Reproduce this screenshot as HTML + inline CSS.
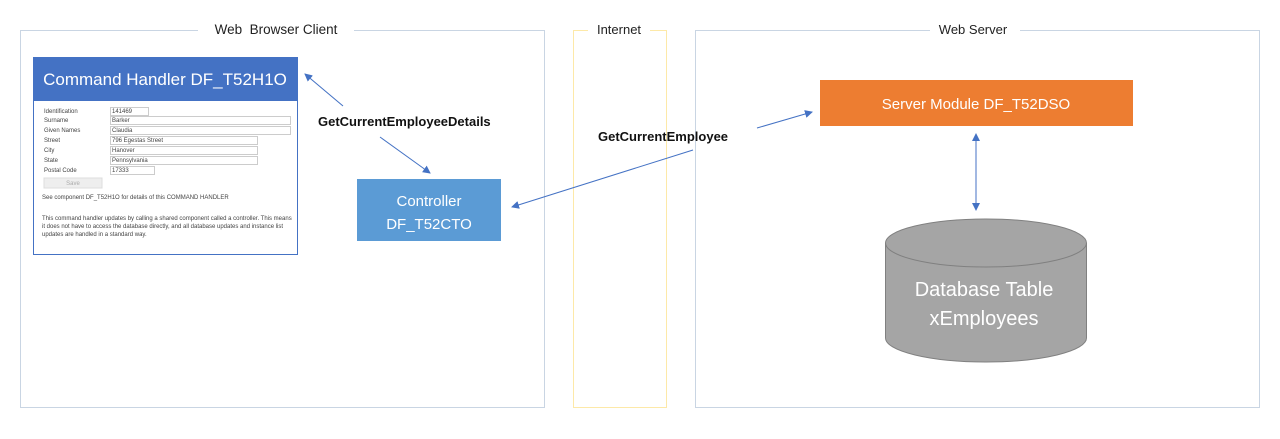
<!DOCTYPE html>
<html><head><meta charset="utf-8"><style>
body{margin:0;background:#fff;width:1280px;height:434px;overflow:hidden;font-family:"Liberation Sans",sans-serif}
</style></head><body>
<svg width="1280" height="434" xmlns="http://www.w3.org/2000/svg" font-family="Liberation Sans, sans-serif">
<defs><marker id="a" markerWidth="8" markerHeight="8" refX="7" refY="4" orient="auto" markerUnits="userSpaceOnUse"><path d="M0,0 L8,4 L0,8 z" fill="#4472c4"/></marker></defs>
<rect x="20.5" y="30.5" width="524" height="377" fill="none" stroke="#c9d5e3"/>
<rect x="573.5" y="30.5" width="93" height="377" fill="none" stroke="#fde9a8"/>
<rect x="695.5" y="30.5" width="564" height="377" fill="none" stroke="#c9d5e3"/>
<rect x="198" y="20" width="156" height="16" fill="#fff"/>
<text x="276" y="34" font-size="13.5" text-anchor="middle" fill="#222" xml:space="preserve">Web  Browser Client</text>
<rect x="588" y="20" width="62" height="16" fill="#fff"/>
<text x="619" y="34" font-size="13" text-anchor="middle" fill="#222">Internet</text>
<rect x="930" y="20" width="90" height="16" fill="#fff"/>
<text x="973" y="34" font-size="13" text-anchor="middle" fill="#222">Web Server</text>
<!-- command handler -->
<rect x="33.5" y="57.5" width="264" height="197" fill="#fff" stroke="#4472c4"/>
<rect x="33" y="57" width="265" height="44" fill="#4472c4"/>
<text x="165" y="85" font-size="17" fill="#fff" text-anchor="middle">Command Handler DF_T52H1O</text>
<g font-size="6" fill="#444">
<text x="44" y="113">Identification</text><rect x="110.5" y="107.5" width="38" height="8" fill="#fff" stroke="#ccc"/><text x="112" y="113">141469</text>
<text x="44" y="122">Surname</text><rect x="110.5" y="116.5" width="180" height="8" fill="#fff" stroke="#ccc"/><text x="112" y="122">Barker</text>
<text x="44" y="132">Given Names</text><rect x="110.5" y="126.5" width="180" height="8" fill="#fff" stroke="#ccc"/><text x="112" y="132">Claudia</text>
<text x="44" y="142">Street</text><rect x="110.5" y="136.5" width="147" height="8" fill="#fff" stroke="#ccc"/><text x="112" y="142">796 Egestas Street</text>
<text x="44" y="152">City</text><rect x="110.5" y="146.5" width="147" height="8" fill="#fff" stroke="#ccc"/><text x="112" y="152">Hanover</text>
<text x="44" y="162">State</text><rect x="110.5" y="156.5" width="147" height="8" fill="#fff" stroke="#ccc"/><text x="112" y="162">Pennsylvania</text>
<text x="44" y="172">Postal Code</text><rect x="110.5" y="166.5" width="44" height="8" fill="#fff" stroke="#ccc"/><text x="112" y="172">17333</text>
<rect x="44" y="178" width="58" height="10" fill="#eee" stroke="#ddd"/><text x="73" y="185" text-anchor="middle" fill="#aaa">Save</text>
<text x="42" y="199">See component DF_T52H1O for details of this COMMAND HANDLER</text>
<text x="42" y="220">This command handler updates by calling a shared component called a controller. This means</text>
<text x="42" y="228">it does not have to access the database directly, and all database updates and instance list</text>
<text x="42" y="236">updates are handled in a standard way.</text>
</g>
<!-- controller -->
<rect x="357" y="179" width="144" height="62" fill="#5b9bd5"/>
<text x="429" y="206" font-size="15" fill="#fff" text-anchor="middle">Controller</text>
<text x="429" y="229" font-size="15" fill="#fff" text-anchor="middle">DF_T52CTO</text>
<!-- server module -->
<rect x="820" y="80" width="313" height="46" fill="#ed7d31"/>
<text x="976" y="109" font-size="15" fill="#fff" text-anchor="middle">Server Module DF_T52DSO</text>
<!-- cylinder -->
<path d="M885.5,243 L885.5,338 A100.5,24 0 0 0 1086.5,338 L1086.5,243" fill="#a5a5a5" stroke="#808080"/>
<ellipse cx="986" cy="243" rx="100.5" ry="24" fill="#a5a5a5" stroke="#808080"/>
<text x="984" y="296" font-size="20" fill="#fff" text-anchor="middle">Database Table</text>
<text x="984" y="325" font-size="20" fill="#fff" text-anchor="middle">xEmployees</text>
<!-- arrows -->
<g stroke="#4472c4" stroke-width="1" fill="none">
<line x1="343" y1="106" x2="305" y2="74" marker-end="url(#a)"/>
<line x1="380" y1="137" x2="430" y2="173" marker-end="url(#a)"/>
<line x1="693" y1="150" x2="512" y2="207" marker-end="url(#a)"/>
<line x1="757" y1="128" x2="812" y2="112" marker-end="url(#a)"/>
<line x1="976" y1="140" x2="976" y2="134" marker-end="url(#a)"/>
<line x1="976" y1="136" x2="976" y2="210" marker-end="url(#a)"/>
</g>
<text x="318" y="126" font-size="13" font-weight="bold" fill="#111">GetCurrentEmployeeDetails</text>
<text x="598" y="141" font-size="13" font-weight="bold" fill="#111">GetCurrentEmployee</text>
</svg>
</body></html>
